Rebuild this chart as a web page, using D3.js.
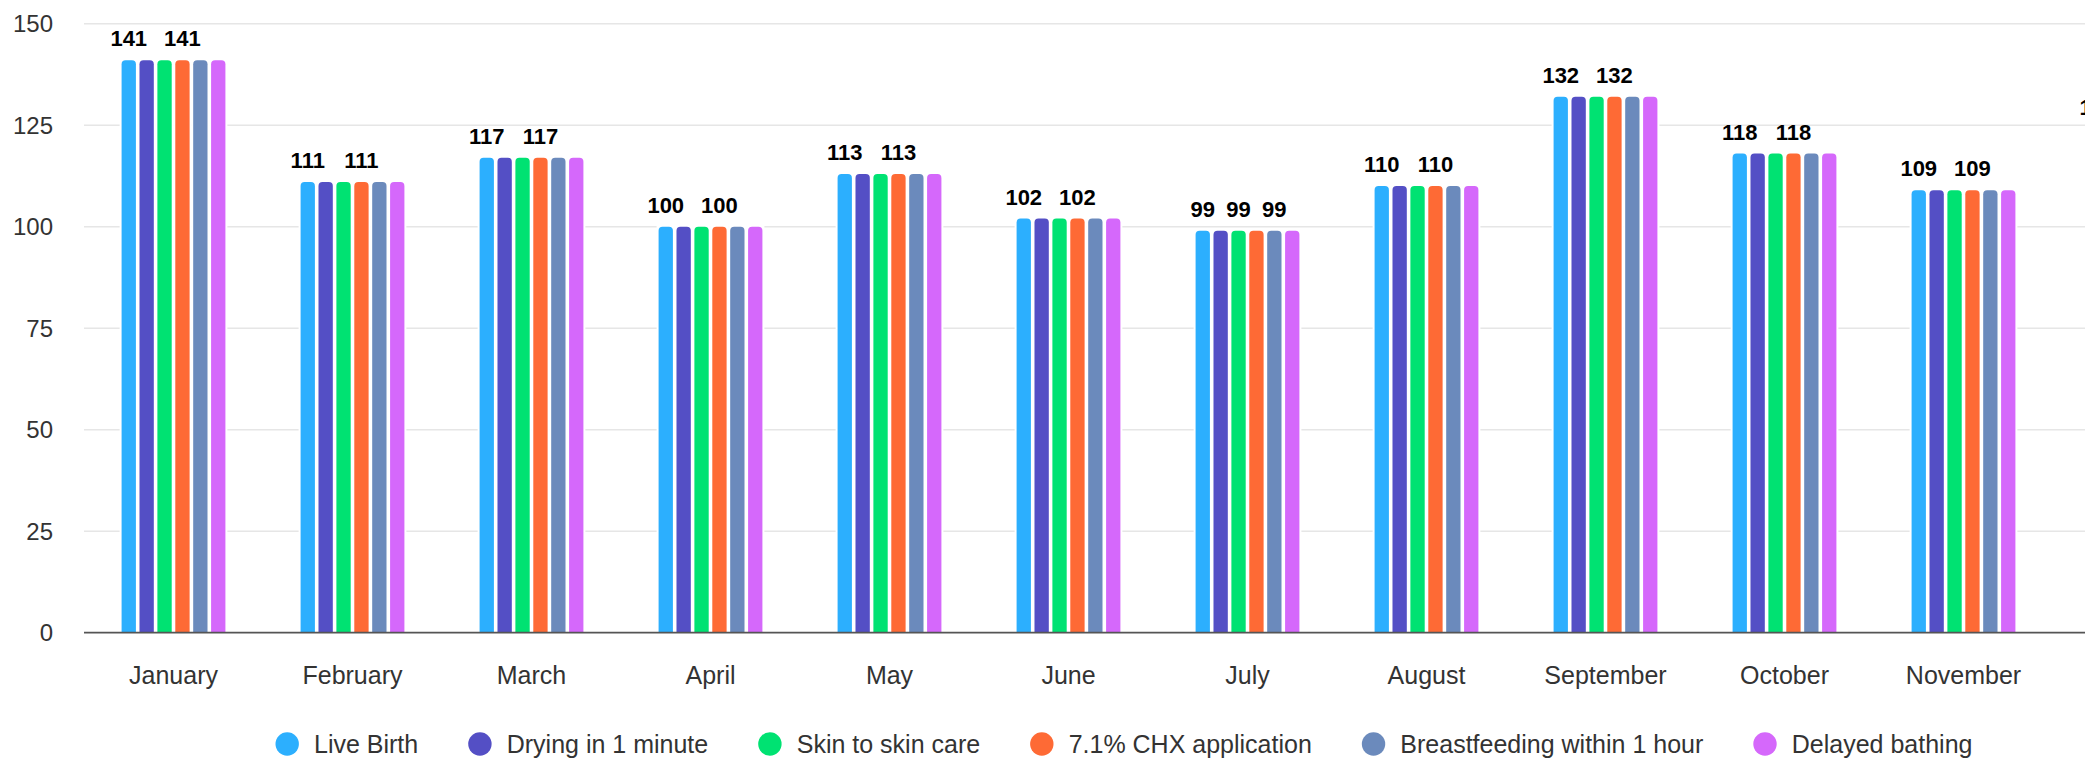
<!DOCTYPE html>
<html>
<head>
<meta charset="utf-8">
<script src="https://cdn.jsdelivr.net/npm/d3@7"></script>
<style>
  body { margin: 0; background: #fff; }
  svg { display: block; font-family: "Liberation Sans", Arial, sans-serif; }
</style>
</head>
<body>
<div id="chart"></div>
<script>
// data
var months = ["January", "February", "March", "April", "May", "June",
              "July", "August", "September", "October", "November", "December"];
var liveBirth      = [141, 111, 117, 100, 113, 102, 99, 110, 132, 118, 109, 124];
var drying         = [141, 111, 117, 100, 113, 102, 99, 110, 132, 118, 109, 124];
var skinToSkin     = [141, 111, 117, 100, 113, 102, 99, 110, 132, 118, 109, 124];
var chx            = [141, 111, 117, 100, 113, 102, 99, 110, 132, 118, 109, 124];
var breastfeeding  = [141, 111, 117, 100, 113, 102, 99, 110, 132, 118, 109, 124];
var delayedBathing = [141, 111, 117, 100, 113, 102, 99, 110, 132, 118, 109, 124];
var seriesNames = ["Live Birth", "Drying in 1 minute", "Skin to skin care",
                   "7.1% CHX application", "Breastfeeding within 1 hour", "Delayed bathing"];
var yTicks = [0, 25, 50, 75, 100, 125, 150];

var seriesValues = [liveBirth, drying, skinToSkin, chx, breastfeeding, delayedBathing];
var colors = ["#2caffe", "#544fc5", "#00e272", "#fe6a35", "#6b8abc", "#d568fb"];

var width = 2099, height = 763;
var fullWidth = 2248;      // the original chart is wider than the window, it gets cut
var visibleRight = 2085;
var plot = {left: 84, right: 2232, top: 23.7, bottom: 632.7};

var svg = d3.select("#chart").append("svg")
    .attr("width", width)
    .attr("height", height);

svg.append("clipPath").attr("id", "cut")
  .append("rect").attr("x", 0).attr("y", 0).attr("width", visibleRight).attr("height", height);

var g = svg.append("g").attr("clip-path", "url(#cut)");

var x = d3.scaleBand().domain(months).range([plot.left, plot.right]);
var xInner = d3.scaleBand().domain(d3.range(seriesNames.length))
    .range([x.bandwidth() * 0.2, x.bandwidth() * 0.8])
    .paddingInner(0.2).paddingOuter(0.1);
var y = d3.scaleLinear().domain([0, 150]).range([plot.bottom, plot.top]);

// grid
g.selectAll(".grid").data(yTicks.filter(function(d) { return d > 0; })).enter()
  .append("line")
    .attr("x1", plot.left).attr("x2", plot.right)
    .attr("y1", function(d) { return y(d); }).attr("y2", function(d) { return y(d); })
    .attr("stroke", "#e6e6e6").attr("stroke-width", 1.4);

// y labels
g.selectAll(".ylab").data(yTicks).enter()
  .append("text")
    .attr("x", 53).attr("y", function(d) { return y(d) + 8.5; })
    .attr("text-anchor", "end")
    .attr("font-size", 24).attr("fill", "#333")
    .text(function(d) { return d; });

// flatten bars
var bars = [];
months.forEach(function(m, i) {
  seriesValues.forEach(function(vals, s) {
    bars.push({month: m, s: s, v: vals[i], x: x(m) + xInner(s), w: xInner.bandwidth()});
  });
});

function barPath(d) {
  var r = 4, x0 = d.x, x1 = d.x + d.w, y0 = y(d.v), y1 = y(0);
  return "M" + x0 + "," + y1 + "V" + (y0 + r) + "Q" + x0 + "," + y0 + " " + (x0 + r) + "," + y0 +
         "H" + (x1 - r) + "Q" + x1 + "," + y0 + " " + x1 + "," + (y0 + r) + "V" + y1 + "Z";
}

// white border behind bars hides grid between them
g.selectAll(".back").data(bars).enter()
  .append("rect")
    .attr("x", function(d) { return d.x - 2; })
    .attr("y", function(d) { return y(d.v) - 1.5; })
    .attr("width", function(d) { return d.w + 4; })
    .attr("height", function(d) { return y(0) - y(d.v) + 1.5; })
    .attr("fill", "#fff");

g.selectAll(".bar").data(bars).enter()
  .append("path")
    .attr("d", barPath)
    .attr("fill", function(d) { return colors[d.s]; });

// x axis line
g.append("line")
  .attr("x1", plot.left).attr("x2", plot.right)
  .attr("y1", plot.bottom).attr("y2", plot.bottom)
  .attr("stroke", "#555").attr("stroke-width", 1.8);

// month labels (the one running off the edge is not shown in the original)
g.selectAll(".xlab").data(months).enter()
  .append("text")
    .attr("x", function(d) { return x(d) + x.bandwidth() / 2; })
    .attr("y", 684)
    .attr("text-anchor", "middle")
    .attr("font-size", 25).attr("fill", "#333")
    .text(function(d) { return d; })
    .each(function() {
      var bb = this.getBBox();
      if (bb.x + bb.width > visibleRight) d3.select(this).remove();
    });

// data labels, overlapping ones get dropped (like the original)
months.forEach(function(m) {
  var lastRight = -Infinity;
  bars.filter(function(b) { return b.month === m; }).forEach(function(b) {
    var cx = b.x + b.w / 2;
    var t = g.append("text")
      .attr("x", cx).attr("y", y(b.v) - 14)
      .attr("text-anchor", "middle")
      .attr("font-size", 22).attr("font-weight", "bold").attr("fill", "#000")
      .text(b.v);
    var half = t.node().getComputedTextLength() / 2 + 5;
    if (cx - half < lastRight) t.remove();
    else lastRight = cx + half;
  });
});

// legend
var gap = 50;
var legend = svg.append("g");
var lx = 0;
seriesNames.forEach(function(name, i) {
  var item = legend.append("g").attr("transform", "translate(" + lx + ",0)");
  item.append("circle").attr("cx", 11.7).attr("cy", 744).attr("r", 11.7).attr("fill", colors[i]);
  var t = item.append("text").attr("x", 38.5).attr("y", 753)
    .attr("font-size", 25).attr("fill", "#333").text(name);
  lx += 38.5 + t.node().getComputedTextLength() + gap;
});
var legendW = lx - gap;
legend.attr("transform", "translate(" + (fullWidth / 2 - legendW / 2) + ",0)");
</script>
</body>
</html>
